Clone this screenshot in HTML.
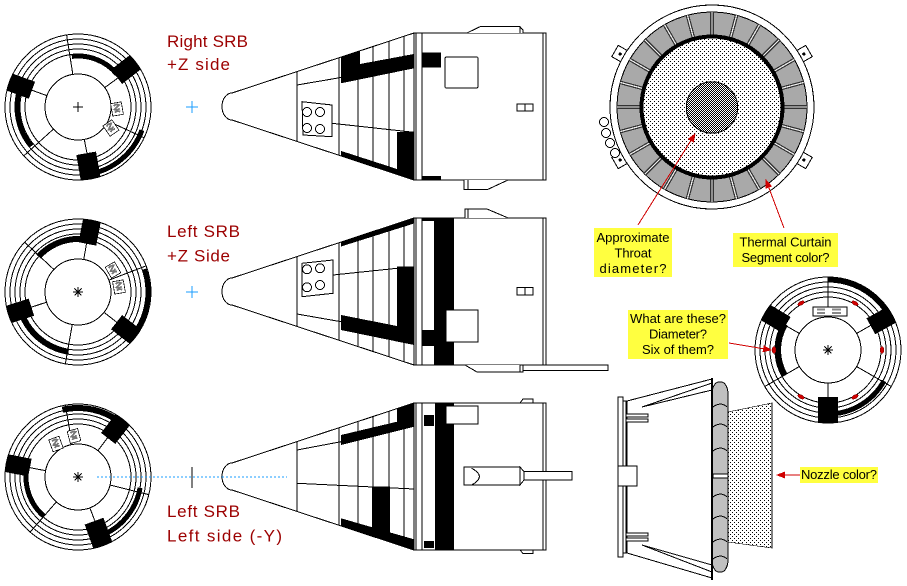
<!DOCTYPE html>
<html><head><meta charset="utf-8">
<style>
html,body{margin:0;padding:0;background:#fff;width:907px;height:586px;overflow:hidden}
svg{display:block}
text{font-family:"Liberation Sans",sans-serif}
</style></head><body>
<svg width="907" height="586" viewBox="0 0 907 586" xmlns="http://www.w3.org/2000/svg" shape-rendering="crispEdges">
<defs>
<pattern id="dots" width="4" height="4" patternUnits="userSpaceOnUse"><rect width="4" height="4" fill="#fff"/><rect width="1" height="1" fill="#000"/><rect x="2" y="2" width="1" height="1" fill="#000"/></pattern>
<pattern id="chk" width="2" height="2" patternUnits="userSpaceOnUse"><rect width="2" height="2" fill="#fff"/><rect width="1" height="1" fill="#000"/><rect x="1" y="1" width="1" height="1" fill="#000"/></pattern>
<clipPath id="coneclip"><path d="M232,-13.5 L414,-73.5 L414,73.5 L232,13.5 Z"/></clipPath>
<clipPath id="cc"><circle r="73.5"/></clipPath>
<marker id="ah" markerWidth="9" markerHeight="7" refX="8" refY="3.5" orient="auto" markerUnits="userSpaceOnUse"><path d="M0,0L9,3.5L0,7Z" fill="#d00000"/></marker>
<g id="rings" fill="none" stroke="#000">
<circle r="73" fill="#fff"/><circle r="68"/><circle r="63"/><circle r="58"/><circle r="53"/><circle r="33"/>
</g>
<path id="ast" d="M-5,0H5M0,-5V5M-3.5,-3.5L3.5,3.5M-3.5,3.5L3.5,-3.5" stroke="#000" fill="none"/>
<g id="icon"><rect x="-6" y="-7" width="12" height="14" fill="#fff" stroke="#000" stroke-width=".8"/><path d="M-3,-4 Q0,-6 3,-4 Q0,-2 -3,0 Q0,2 3,0 M-3,3.5 Q0,1.5 3,3.5" fill="none" stroke="#777" stroke-width="2"/></g>
<g id="sep"><line x1="72" x2="95" stroke="#333" stroke-width="3.6"/><line x1="72" x2="95" stroke="#eee" stroke-width="1.2"/></g>
<g id="conebase">
<path d="M232,-13.5 L414,-73.5 L414,73.5 L232,13.5 A10,13.5 0 0 1 232,-13.5 Z" fill="#fff" stroke="#000"/>
<g clip-path="url(#coneclip)" stroke="#000">
<path d="M297,-80V80M339,-80V80M358,-80V80M373,-80V80M389,-80V80M404,-80V80"/>
</g>
<rect x="414" y="-73.5" width="132" height="147" fill="#fff" stroke="#000"/>
<path d="M416,-73.5V73.5M422,-73.5V73.5M543,-73.5V73.5" stroke="#000"/>
</g>
</defs>

<!-- ===== Circle 1 (Right SRB) ===== -->
<g transform="translate(78,107)">
<use href="#rings"/>
<g stroke="#000">
<line x1="33" x2="73" transform="rotate(-99)"/>
<line x1="33" x2="73" transform="rotate(-36)"/>
<line x1="33" x2="73" transform="rotate(25)"/>
<line x1="33" x2="73" transform="rotate(79)"/>
<line x1="33" x2="73" transform="rotate(138)"/>
<line x1="33" x2="73" transform="rotate(200)"/>
</g>
<g clip-path="url(#cc)">
<g fill="#000">
<rect x="49" y="-9" width="26" height="18" transform="rotate(-38)"/>
<rect x="49" y="-9" width="26" height="18" transform="rotate(200)"/>
<rect x="47" y="-10" width="28" height="20" transform="rotate(80)"/>
</g>
<g fill="none" stroke="#000" stroke-width="5">
<circle r="51" stroke-dasharray="50.7 999" transform="rotate(-97)"/>
<circle r="61" stroke-dasharray="58.6 999" transform="rotate(140)"/>
<circle r="68" stroke-dasharray="71.2 999" transform="rotate(20)"/>
</g>
</g>
<use href="#icon" transform="translate(39,2) rotate(-10) scale(.9)"/>
<use href="#icon" transform="translate(33,21) rotate(-35) scale(.9)"/>
<path d="M-5,0H5M0,-5V5" stroke="#000"/>
</g>

<!-- ===== Circle 2 (Left SRB +Z) ===== -->
<g transform="translate(78,292)">
<use href="#rings"/>
<g stroke="#000">
<line x1="33" x2="73" transform="rotate(-80)"/>
<line x1="33" x2="73" transform="rotate(-21)"/>
<line x1="33" x2="73" transform="rotate(38)"/>
<line x1="33" x2="73" transform="rotate(100)"/>
<line x1="33" x2="73" transform="rotate(162)"/>
<line x1="33" x2="73" transform="rotate(223)"/>
</g>
<g clip-path="url(#cc)">
<g fill="#000">
<rect x="49" y="-9" width="26" height="18" transform="rotate(-79)"/>
<rect x="49" y="-9" width="26" height="18" transform="rotate(38)"/>
<rect x="49" y="-9" width="26" height="18" transform="rotate(162)"/>
</g>
<g fill="none" stroke="#000">
<circle r="53" stroke-width="6" stroke-dasharray="54.6 999" transform="rotate(222)"/>
<circle r="70" stroke-width="5" stroke-dasharray="69.6 999" transform="rotate(-19)"/>
<circle r="60" stroke-width="5" stroke-dasharray="66 999" transform="rotate(99)"/>
</g>
</g>
<use href="#icon" transform="translate(35,-22) rotate(-30) scale(.9)"/>
<use href="#icon" transform="translate(41,-5) rotate(-10) scale(.9)"/>
<use href="#ast"/>
</g>

<!-- ===== Circle 3 (Left SRB left side) ===== -->
<g transform="translate(78,477)">
<use href="#rings"/>
<g stroke="#000">
<line x1="33" x2="73" transform="rotate(-100)"/>
<line x1="33" x2="73" transform="rotate(-53)"/>
<line x1="33" x2="73" transform="rotate(14)"/>
<line x1="33" x2="73" transform="rotate(69)"/>
<line x1="33" x2="73" transform="rotate(131)"/>
<line x1="33" x2="73" transform="rotate(191)"/>
</g>
<g clip-path="url(#cc)">
<g fill="#000">
<rect x="49" y="-9" width="26" height="18" transform="rotate(-52)"/>
<rect x="49" y="-9" width="26" height="18" transform="rotate(191)"/>
<rect x="47" y="-10" width="28" height="20" transform="rotate(70)"/>
</g>
<g fill="none" stroke="#000">
<circle r="69" stroke-width="6" stroke-dasharray="61.4 999" transform="rotate(-103)"/>
<circle r="52" stroke-width="5" stroke-dasharray="54.5 999" transform="rotate(131)"/>
<circle r="63" stroke-width="5" stroke-dasharray="66 999" transform="rotate(10)"/>
</g>
</g>
<use href="#icon" transform="translate(-22,-33) rotate(-20) scale(.9)"/>
<use href="#icon" transform="translate(-4,-41) rotate(-15) scale(.9)"/>
<use href="#ast"/>
</g>

<!-- blue markers -->
<g stroke="#1a9cff" fill="none">
<path d="M186,107H198M192,101V113"/>
<path d="M186,292H198M192,286V298"/>
<line x1="97" y1="477" x2="287" y2="477" stroke-dasharray="2 2"/>
</g>
<line x1="192" y1="467" x2="192" y2="488" stroke="#000"/>

<!-- ===== Cone 1 ===== -->
<g transform="translate(0,106.5)">
<use href="#conebase"/>
<g clip-path="url(#coneclip)" fill="#000">
<polygon points="341,-60 360,-60 360,-42.5 414,-52.5 414,-38.2 341,-23.2"/>
<polygon points="341,44.4 414,68 414,80 341,60"/>
<rect x="397" y="25.5" width="17" height="50"/>
</g>
<g stroke="#000" fill="none">
<line x1="297" y1="-21.5" x2="341" y2="-29"/>
<line x1="332" y1="16.8" x2="414" y2="25.8"/>
</g>
<polygon points="302,-4.8 332,-1.5 332,30.2 303,28.5" fill="#fff" stroke="#000"/>
<g fill="#fff" stroke="#000">
<circle cx="307" cy="5.5" r="4.5"/><circle cx="320" cy="5.5" r="4.5"/>
<circle cx="307" cy="21.5" r="4.5"/><circle cx="320" cy="22.5" r="4.5"/>
</g>
<rect x="422" y="-53.8" width="19" height="15" fill="#000"/>
<rect x="422" y="69.5" width="19" height="4" fill="#000"/>
<rect x="445" y="-49.5" width="33" height="31" rx="1.5" fill="#fff" stroke="#000"/>
<rect x="517" y="-2.5" width="16" height="7" fill="#fff" stroke="#000"/>
<line x1="525" y1="-2.5" x2="525" y2="4.5" stroke="#000"/>
<polyline points="467,-73.5 480,-79.8 520,-79.8 523,-76.5 523,-73.5" fill="#fff" stroke="#000"/>
<line x1="520" y1="-79.8" x2="520" y2="-73.5" stroke="#000"/>
<polyline points="464,73.5 464,82.8 488,82.8 508,73.5" fill="#fff" stroke="#000"/>
<line x1="468" y1="73.5" x2="468" y2="82.8" stroke="#000"/>
</g>

<!-- ===== Cone 2 ===== -->
<g transform="translate(0,291.5)">
<use href="#conebase"/>
<g clip-path="url(#coneclip)" fill="#000">
<polygon points="341,-60 414,-85 414,-68 341,-45"/>
<polygon points="341,23.5 397,34.5 397,-24.8 414,-24.8 414,53.5 341,38.5"/>
</g>
<g stroke="#000" fill="none">
<line x1="333" y1="-16.5" x2="397" y2="-23.2"/>
<line x1="297" y1="22.5" x2="341" y2="30.2"/>
</g>
<polygon points="302,-28.2 333,-31.5 333,1.8 302,5.2" fill="#fff" stroke="#000"/>
<g fill="#fff" stroke="#000">
<circle cx="307" cy="-22.2" r="4.5"/><circle cx="320" cy="-23.2" r="4.5"/>
<circle cx="307" cy="-4.2" r="4.5"/><circle cx="320" cy="-6.5" r="4.5"/>
</g>
<rect x="434" y="-73.5" width="20" height="147" fill="#000"/>
<rect x="422" y="38.5" width="12" height="16" fill="#000"/>
<rect x="422" y="-73.5" width="12" height="3" fill="#000"/>
<rect x="446" y="18.5" width="32" height="32" fill="#fff" stroke="#000"/>
<rect x="517" y="-4.2" width="16" height="7.5" fill="#fff" stroke="#000"/>
<line x1="525" y1="-4.2" x2="525" y2="3.3" stroke="#000"/>
<polyline points="465,-73.5 465,-82.5 487,-82.5 507,-74 507,-73.5" fill="#fff" stroke="#000"/>
<line x1="468" y1="-82.5" x2="468" y2="-73.5" stroke="#000"/>
<polyline points="465,73.5 477,80.5 520,80.5 520,73.5" fill="#fff" stroke="#000"/>
<rect x="520" y="73.5" width="3" height="7" fill="#fff" stroke="#000"/>
<rect x="523" y="73.5" width="85" height="5.5" fill="#fff" stroke="#000"/>
</g>

<!-- ===== Cone 3 ===== -->
<g transform="translate(0,476.5)">
<use href="#conebase"/>
<g clip-path="url(#coneclip)" fill="#000">
<polygon points="341,-41.5 397,-54.8 397,-80 414,-80 414,-49.8 341,-31.5"/>
<polygon points="341,41.8 414,62.8 414,80 341,60"/>
<rect x="372" y="10.2" width="18" height="50"/>
</g>
<g stroke="#000" fill="none">
<line x1="297" y1="-26.5" x2="341" y2="-34.8"/>
<line x1="297" y1="6.8" x2="414" y2="12.5"/>
</g>
<rect x="435" y="-73.5" width="19" height="147" fill="#000"/>
<rect x="424" y="-61.5" width="10" height="11" fill="#000"/>
<rect x="424" y="64.5" width="10" height="7" fill="#000"/>
<rect x="446" y="-70.5" width="32" height="18" fill="#fff" stroke="#000"/>
<rect x="464" y="-9.5" width="56" height="18" fill="#fff" stroke="#000"/>
<path d="M471.7,-8.2 Q487,0 471.7,8.5" fill="none" stroke="#000"/>
<polygon points="520,-9.5 524,-4.8 524,3.5 520,8.5" fill="#fff" stroke="#000"/>
<rect x="524" y="-4.8" width="48" height="8.3" fill="#fff" stroke="#000"/>
<polygon points="520,-73.5 523,-77.5 533,-77.5 533,-73.5" fill="#fff" stroke="#000"/>
<polygon points="520,73.5 523,77 533,77 533,73.5" fill="#fff" stroke="#000"/>
</g>
<line x1="222" y1="477" x2="287" y2="477" stroke="#1a9cff" stroke-dasharray="2 2"/>

<!-- ===== Labels (red) ===== -->
<g fill="#9c0000" font-size="17">
<text x="167" y="47" textLength="81">Right SRB</text>
<text x="167" y="70" textLength="63">+Z side</text>
<text x="167" y="237" textLength="73">Left SRB</text>
<text x="167" y="261.5" textLength="63">+Z Side</text>
<text x="167" y="517" textLength="73">Left SRB</text>
<text x="167" y="541.5" textLength="115">Left side (-Y)</text>
</g>

<!-- ===== Big nozzle end view ===== -->
<g transform="translate(712,107)">
<g fill="#fff" stroke="#000">
<rect x="98" y="-6.5" width="14" height="13" transform="rotate(-30)"/>
<rect x="98" y="-6.5" width="14" height="13" transform="rotate(30)"/>
<rect x="98" y="-6.5" width="14" height="13" transform="rotate(150)"/>
<rect x="98" y="-6.5" width="14" height="13" transform="rotate(210)"/>
<circle cx="-108" cy="15" r="4.5"/>
<circle cx="-106" cy="26" r="4.5"/>
<circle cx="-102" cy="36" r="4.5"/>
<circle cx="-97" cy="46" r="4.5"/>
</g>
<g fill="#000">
<circle cx="106" r="1.6" transform="rotate(-30)"/>
<circle cx="106" r="1.6" transform="rotate(30)"/>
<circle cx="106" r="1.6" transform="rotate(150)"/>
<circle cx="106" r="1.6" transform="rotate(210)"/>
</g>
<circle r="102" fill="#fff" stroke="#000"/>
<circle r="83.5" fill="none" stroke="#a9a9a9" stroke-width="23"/>
<circle r="95" fill="none" stroke="#000"/>
<use href="#sep"/>
<use href="#sep" transform="rotate(15)"/>
<use href="#sep" transform="rotate(30)"/>
<use href="#sep" transform="rotate(45)"/>
<use href="#sep" transform="rotate(60)"/>
<use href="#sep" transform="rotate(75)"/>
<use href="#sep" transform="rotate(90)"/>
<use href="#sep" transform="rotate(105)"/>
<use href="#sep" transform="rotate(120)"/>
<use href="#sep" transform="rotate(135)"/>
<use href="#sep" transform="rotate(150)"/>
<use href="#sep" transform="rotate(165)"/>
<use href="#sep" transform="rotate(180)"/>
<use href="#sep" transform="rotate(195)"/>
<use href="#sep" transform="rotate(210)"/>
<use href="#sep" transform="rotate(225)"/>
<use href="#sep" transform="rotate(240)"/>
<use href="#sep" transform="rotate(255)"/>
<use href="#sep" transform="rotate(270)"/>
<use href="#sep" transform="rotate(285)"/>
<use href="#sep" transform="rotate(300)"/>
<use href="#sep" transform="rotate(315)"/>
<use href="#sep" transform="rotate(330)"/>
<use href="#sep" transform="rotate(345)"/>
<circle r="70.5" fill="none" stroke="#000" stroke-width="4"/>
<circle r="68.5" fill="url(#dots)"/>
<circle cy="0.5" r="25.7" fill="url(#chk)" stroke="#000"/>
</g>

<!-- ===== Small circle (right) ===== -->
<g transform="translate(828,350)">
<use href="#rings"/>
<g stroke="#000">
<line x1="33" x2="73" transform="rotate(-90)"/>
<line x1="33" x2="73" transform="rotate(-30)"/>
<line x1="33" x2="73" transform="rotate(30)"/>
<line x1="33" x2="73" transform="rotate(90)"/>
<line x1="33" x2="73" transform="rotate(150)"/>
<line x1="33" x2="73" transform="rotate(210)"/>
</g>
<g clip-path="url(#cc)">
<g fill="#000">
<rect x="49" y="-9" width="26" height="18" transform="rotate(-29)"/>
<rect x="47" y="-10" width="28" height="20" transform="rotate(90)"/>
<rect x="49" y="-9" width="26" height="18" transform="rotate(211)"/>
</g>
<g fill="none" stroke="#000" stroke-width="5">
<circle r="70.5" stroke-dasharray="75 999" transform="rotate(-90)"/>
<circle r="50" stroke-width="6" stroke-dasharray="53.2 999" transform="rotate(150)"/>
<circle r="64" stroke-dasharray="68.1 999" transform="rotate(29)"/>
</g>
</g>
<g fill="#d00000" stroke="#700" stroke-width=".5">
<ellipse cx="54" rx="1.8" ry="3.5" transform="rotate(-120)"/>
<ellipse cx="54" rx="1.8" ry="3.5" transform="rotate(-60)"/>
<ellipse cx="54" rx="1.8" ry="3.5" transform="rotate(0)"/>
<ellipse cx="54" rx="1.8" ry="3.5" transform="rotate(60)"/>
<ellipse cx="54" rx="1.8" ry="3.5" transform="rotate(120)"/>
<ellipse cx="54" rx="1.8" ry="3.5" transform="rotate(180)"/>
</g>
<rect x="-15" y="-43" width="34" height="9" fill="#fff" stroke="#000" stroke-width=".8"/>
<path d="M-11,-40.5h8M-11,-37h8M4,-40.5h9M4,-37h9" stroke="#888" stroke-width="2"/>
<use href="#ast"/>
</g>

<!-- ===== Nozzle side view ===== -->
<g stroke="#000" fill="#fff">
<polygon points="627,401 712,379 712,578 627,553"/>
<line x1="642" y1="407" x2="712" y2="383"/>
<line x1="642" y1="407" x2="712" y2="390"/>
<line x1="642" y1="545" x2="712" y2="572"/>
<line x1="642" y1="545" x2="712" y2="565"/>
<rect x="625" y="414" width="23" height="3"/><rect x="625" y="419" width="23" height="3"/>
<rect x="625" y="533" width="23" height="3"/><rect x="625" y="538" width="23" height="3"/>
<rect x="618" y="397" width="5" height="160"/>
<rect x="623" y="401" width="3" height="152"/>
<rect x="618" y="466" width="19" height="20"/>
<polygon points="728,412 772,403 772,548 728,542" fill="url(#dots)" stroke-width=".6"/>
<rect x="712" y="382" width="16" height="190" rx="7" ry="12" fill="#c0c0c0"/>
</g>
<g stroke="#000" fill="none">
<path d="M712,408 C717,403 723,403 727,407"/>
<path d="M712,428 C717,423 723,423 727,427"/>
<path d="M712,452 C717,447 723,447 727,451"/>
<path d="M712,498 C717,493 723,493 727,497"/>
<path d="M712,520 C717,515 723,515 727,519"/>
<path d="M712,543 C717,538 723,538 727,542"/>
<path d="M712,560 C717,555 723,555 727,559"/>
</g>
<rect x="713" y="474" width="15" height="4" fill="#fff" stroke="#000" stroke-width=".6"/>
<line x1="712" y1="378" x2="712" y2="580" stroke="#000" stroke-width="2"/>

<!-- ===== Yellow labels ===== -->
<g fill="#ffff40">
<rect x="594" y="228" width="78" height="49"/>
<rect x="733" y="233" width="105" height="34"/>
<rect x="628" y="310" width="100" height="49"/>
<rect x="800" y="467" width="78" height="16"/>
</g>
<g fill="#000" font-size="13" text-anchor="middle">
<text x="633" y="242" textLength="73">Approximate</text>
<text x="633" y="257.5" textLength="37">Throat</text>
<text x="633" y="273" textLength="67">diameter?</text>
<text x="785.5" y="246.5" textLength="92">Thermal Curtain</text>
<text x="785.5" y="262" textLength="88">Segment color?</text>
<text x="678" y="323" textLength="96">What are these?</text>
<text x="678" y="338.5" textLength="58">Diameter?</text>
<text x="678" y="354" textLength="72">Six of them?</text>
<text x="839" y="479" textLength="76">Nozzle color?</text>
</g>

<!-- ===== Red arrows ===== -->
<g stroke="#d00000" fill="none" marker-end="url(#ah)">
<line x1="638" y1="225" x2="695" y2="134"/>
<line x1="784" y1="228" x2="766" y2="180"/>
<line x1="729" y1="343" x2="771" y2="350"/>
<line x1="800" y1="475" x2="777" y2="475"/>
</g>
</svg>
</body></html>
